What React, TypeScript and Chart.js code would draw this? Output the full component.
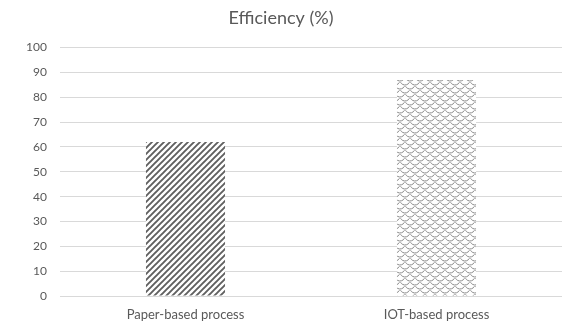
import React, { useEffect, useRef } from "react";
import { Chart, registerables } from "chart.js";

Chart.register(...registerables);

const categories = ["Paper-based process", "IOT-based process"];
const efficiency = [62, 87];
const titleText = "Efficiency (%)";
const yMin = 0;
const yMax = 100;
const yStep = 10;

function makeHatch(): CanvasPattern | string {
  const c = document.createElement("canvas");
  c.width = 6;
  c.height = 6;
  const g = c.getContext("2d");
  if (!g) return "#666";
  g.fillStyle = "#ffffff";
  g.fillRect(0, 0, 6, 6);
  g.strokeStyle = "#606060";
  g.lineWidth = 1.9;
  g.beginPath();
  for (let k = -1; k <= 1; k++) {
    g.moveTo(k * 6 - 1, 7);
    g.lineTo(k * 6 + 7, -1);
  }
  g.stroke();
  const p = g.createPattern(c, "repeat");
  return p || "#666";
}

function makeScales(): CanvasPattern | string {
  const w = 10;
  const h = 8;
  const c = document.createElement("canvas");
  c.width = w;
  c.height = h;
  const g = c.getContext("2d");
  if (!g) return "#ccc";
  g.fillStyle = "#ffffff";
  g.fillRect(0, 0, w, h);
  g.strokeStyle = "#8a8a8a";
  g.lineWidth = 1;
  const r = w / 2;
  const arc = (cx: number, cy: number) => {
    g.beginPath();
    g.arc(cx, cy, r, 0.15 * Math.PI, 0.85 * Math.PI);
    g.stroke();
  };
  arc(r, 0);
  arc(0, h / 2);
  arc(w, h / 2);
  arc(r, h);
  arc(r, -h);
  arc(0, -h / 2);
  arc(w, -h / 2);
  const p = g.createPattern(c, "repeat");
  return p || "#ccc";
}

export default function App() {
  const ref = useRef<HTMLCanvasElement | null>(null);
  useEffect(() => {
    document.body.style.margin = "0";
    if (!ref.current) return;
    const chart = new Chart(ref.current, {
      type: "bar",
      data: {
        labels: categories,
        datasets: [
          {
            label: titleText,
            data: efficiency,
            backgroundColor: [makeHatch(), makeScales()],
            borderWidth: 0,
            categoryPercentage: 1,
            barPercentage: 0.315,
          },
        ],
      },
      options: {
        animation: false,
        responsive: false,
        maintainAspectRatio: false,
        layout: { padding: { left: 0, right: 0, top: 0, bottom: 0 } },
        plugins: {
          legend: { display: false },
          tooltip: { enabled: false },
          title: {
            display: true,
            text: titleText,
            color: "#595959",
            font: { family: "Lato", size: 18, weight: "normal", lineHeight: 1.2 },
            padding: { top: 7, bottom: 19 },
          },
        },
        scales: {
          x: {
            grid: { display: false },
            border: { display: false },
            ticks: {
              color: "#595959",
              font: { family: "Lato", size: 13 },
              padding: 3,
              maxRotation: 0,
            },
            afterFit: (s: any) => {
              s.height = 28;
            },
          },
          y: {
            min: yMin,
            max: yMax,
            border: { display: false },
            grid: { color: "#d9d9d9", drawTicks: false, lineWidth: 1 },
            ticks: {
              stepSize: yStep,
              color: "#595959",
              font: { family: "Lato", size: 12 },
              padding: 13,
            },
            afterFit: (s: any) => {
              s.width = 60;
            },
          },
        },
      },
    });
    return () => chart.destroy();
  }, []);
  return (
    <div style={{ position: "absolute", left: 0, top: 0, width: 562, height: 324, background: "#fff" }}>
      <canvas ref={ref} width={562} height={324} style={{ width: 562, height: 324 }} />
    </div>
  );
}
